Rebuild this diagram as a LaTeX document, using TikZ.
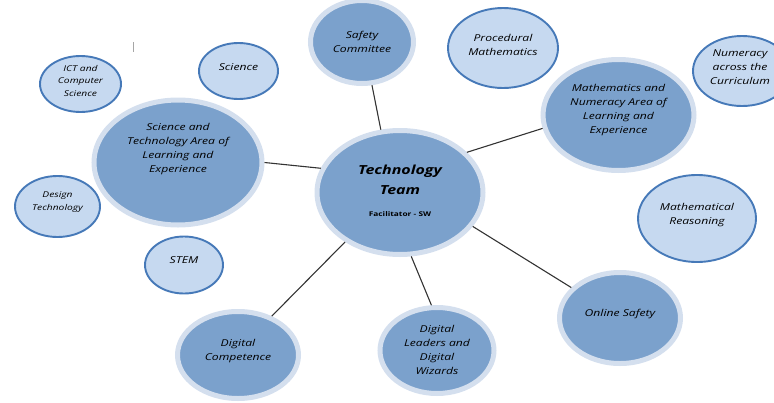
\documentclass[tikz,border=0pt]{standalone}
\usepackage{fontspec}
\usepackage{tikz}
\usetikzlibrary{shapes.geometric}
\newfontfamily\bubblefont{Open Sans}[FakeStretch=1.28]
\definecolor{hubfill}{HTML}{7BA1CC}
\definecolor{hubring}{HTML}{D4DFEE}
\definecolor{leaffill}{HTML}{C6D9F0}
\definecolor{leafline}{HTML}{4679B8}

\begin{document}
\begin{tikzpicture}[x=1pt,y=-1pt,
	hub/.style={ellipse,fill=hubfill,draw=hubring,line width=5pt,inner sep=0pt},
	leaf/.style={ellipse,fill=leaffill,draw=leafline,line width=1.9pt,inner sep=0pt},
	txt/.style={align=center,text=black,font=\bubblefont\itshape\fontsize{9.5}{14}\selectfont},
	smalltxt/.style={txt,font=\bubblefont\itshape\fontsize{8}{12.5}\selectfont},
	titletxt/.style={align=center,text=black,font=\bubblefont\bfseries\itshape\fontsize{12.5}{20}\selectfont},
	link/.style={draw=black!80,line width=1.1pt}]
						\useasboundingbox (0,0) rectangle (774,402);
						\node[hub,minimum width=166pt,minimum height=124pt,label={[titletxt,yshift=2pt]center:Technology\\Team\\[2pt]{\upshape\fontsize{6.5}{8}\selectfont Facilitator - SW}}] (team) at (400,192.5) {};
						\node[hub,minimum width=168pt,minimum height=125pt,label={[txt,yshift=13pt]center:Science and\\Technology Area of\\Learning and\\Experience}] (scitech) at (178,162.5) {};
						\node[hub,minimum width=151pt,minimum height=111pt,label={[txt,yshift=5pt]center:Mathematics and\\Numeracy Area of\\Learning and\\Experience}] (maths) at (618.5,115) {};
						\node[hub,minimum width=103pt,minimum height=83pt,label={[txt,yshift=0pt]center:Safety\\Committee}] (safety) at (362,42) {};
						\node[hub,minimum width=121pt,minimum height=91pt,label={[txt,yshift=4pt]center:Online Safety}] (online) at (620,318) {};
						\node[hub,minimum width=114pt,minimum height=86pt,label={[txt,yshift=1pt]center:Digital\\Leaders and\\Digital\\Wizards}] (leaders) at (437,350.5) {};
						\node[hub,minimum width=121pt,minimum height=87pt,label={[txt,yshift=3.5pt]center:Digital\\Competence}] (competence) at (238,355) {};
						\node[leaf,minimum width=110pt,minimum height=80pt,label={[txt,yshift=3.5pt]center:Procedural\\Mathematics}] (procedural) at (503,48) {};
						\node[leaf,minimum width=98pt,minimum height=70pt,label={[txt,yshift=3.5pt,xshift=-2pt]center:Numeracy\\across the\\Curriculum}] (numeracy) at (742,71) {};
						\node[leaf,minimum width=118pt,minimum height=87pt,label={[txt,yshift=3.5pt]center:Mathematical\\Reasoning}] (reasoning) at (697,218.5) {};
						\node[leaf,minimum width=79pt,minimum height=56pt,label={[txt,yshift=4pt]center:Science}] (science) at (238.5,71) {};
						\node[leaf,minimum width=81pt,minimum height=56pt,label={[smalltxt,yshift=3.5pt]center:ICT and\\Computer\\Science}] (ict) at (80.5,84) {};
						\node[leaf,minimum width=85pt,minimum height=61pt,label={[smalltxt,yshift=4.5pt]center:Design\\Technology}] (design) at (57.5,206.5) {};
						\node[leaf,minimum width=78pt,minimum height=57pt,label={[txt,yshift=5pt]center:STEM}] (stem) at (184,265) {};
						\draw[link] (team.163)--(scitech.0);
						\draw[link] (team.107)--(safety.283);
						\draw[link] (team.31)--(maths.190);
						\draw[link] (team.335)--(online.148);
						\draw[link] (team.280)--(leaders.97);
						\draw[link] (team.222)--(competence.49);
						\draw[black!35,line width=0.8pt] (133,42)--(133,52);
					\end{tikzpicture}
\end{document}
